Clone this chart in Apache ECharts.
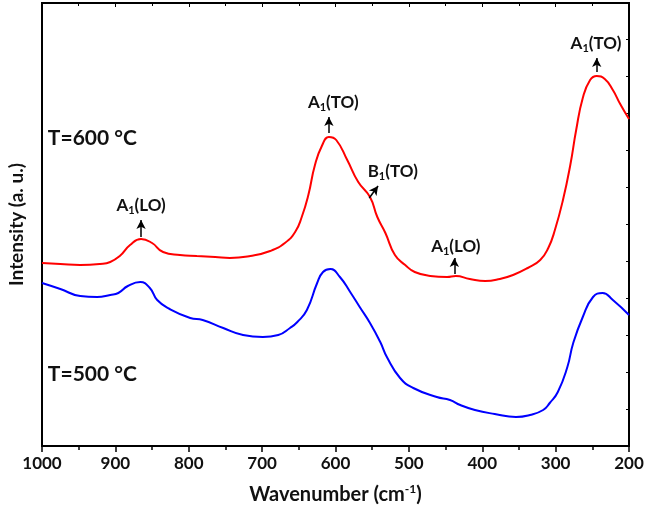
<!DOCTYPE html>
<html>
<head>
<meta charset="utf-8">
<script src="https://cdn.jsdelivr.net/npm/echarts@6/dist/echarts.min.js"></script>
<style>
  html,body{margin:0;padding:0;background:#fff;}
  #chart{width:647px;height:507px;}
</style>
</head>
<body>
<div id="chart"></div>
<script>
  // wavenumber (cm-1) and intensity (a.u.)
  var red600 = [
    [1000,183],[975,182],[948,181],[921,182],[907,184],[894,190],[880,201],[865,207],
    [850,203],[835,194],[812,191],[789,190],[764,189],[744,188],[716,190],[689,195],
    [669,203],[655,214],[646,229],[637,251],[628,281],[618,301],[609,309],[599,306],
    [584,286],[569,264],[553,249],[543,229],[532,213],[519,191],[505,181],[492,174],
    [471,170],[448,169],[436,170],[417,167],[396,165],[376,167],[358,171],[338,178],
    [321,186],[310,198],[301,216],[290,246],[280,281],[272,316],[263,348],[253,366],
    [244,370],[233,367],[222,356],[212,342],[200,327]
  ];
  var blue500 = [
    [1000,163],[975,157],[948,150],[925,149],[907,151],[896,153],[883,160],[866,164],
    [853,158],[843,146],[826,137],[798,128],[781,126],[753,118],[726,111],[699,109],
    [678,111],[662,118],[652,124],[639,136],[625,163],[617,174],[607,177],[594,169],
    [580,154],[567,139],[553,123],[539,104],[530,89],[512,68],[494,58],[462,49],
    [444,46],[430,41],[410,36],[383,32],[354,29],[335,31],[317,36],[308,43],
    [297,54],[284,79],[276,103],[263,129],[249,149],[236,153],[222,146],[200,131]
  ];
  // peak labels: [wavenumber, intensity] of the text centre
  var peakNames = ['A1(LO)','A1(TO)','B1(TO)','A1(LO)','A1(TO)'];
  var peakText = [[865,240],[603,343],[522,274],[436,199],[245,402]];
  // arrows: [from, to]
  var peakArrows = [
    [[865,209],[865,226]],
    [[609,313],[609,329]],
    [[554,248],[542,260]],
    [[438,172],[438,188]],
    [[244,374],[244,388]]
  ];
  var tempNames = ['T=600 °C','T=500 °C'];
  var tempPos = [[992,308],[992,72]];

  var fontF = 'Lato, "Open Sans", sans-serif';

  function richName(s){
    // A1(TO) -> A + subscript 1 + (TO)
    return '{a|' + s.charAt(0) + '}{s|' + s.charAt(1) + '}{a|' + s.slice(2) + '}';
  }

  var labelPoints = peakNames.map(function(n,i){
    return {
      coord: peakText[i],
      symbol: 'circle', symbolSize: 1,
      itemStyle: {color: 'rgba(0,0,0,0)'},
      label: {
        show: true, position: 'inside',
        formatter: richName(n),
        rich: {
          a: {fontFamily: fontF, fontWeight: 'bold', fontSize: 17, color: '#111'},
          s: {fontFamily: fontF, fontWeight: 'bold', fontSize: 11, color: '#111', padding: [9,0,0,0]}
        }
      }
    };
  });
  tempNames.forEach(function(n,i){
    labelPoints.push({
      coord: tempPos[i],
      symbol: 'circle', symbolSize: 1,
      itemStyle: {color: 'rgba(0,0,0,0)'},
      label: {show: true, position: 'inside', align: 'left', formatter: n,
        fontFamily: fontF, fontWeight: 'bold', fontSize: 21, color: '#111'}
    });
  });

  var arrowLines = peakArrows.map(function(a){
    return [{coord: a[0]}, {coord: a[1]}];
  });

  var chart = echarts.init(document.getElementById('chart'));
  var axisLine = {show: true, onZero: false, lineStyle: {color: '#000', width: 2}};

  var option = {
    animation: false,
    grid: {left: 42, right: 18, top: 3, bottom: 61, show: true, outerBoundsMode: 'none',
      borderColor: '#000', borderWidth: 2, backgroundColor: 'transparent'},
    xAxis: [{
      type: 'value', inverse: true, min: 200, max: 1000, interval: 100,
      position: 'bottom',
      axisLine: axisLine,
      axisTick: {show: true, length: 6, lineStyle: {color: '#000', width: 1.5}},
      minorTick: {show: true, splitNumber: 2, length: 4, lineStyle: {color: '#000', width: 1.5}},
      splitLine: {show: false},
      axisLabel: {fontFamily: fontF, fontWeight: 'bold', fontSize: 17, color: '#111', margin: 9,
        formatter: function(v){ return String(v); }},
      name: 'Wavenumber (cm{sup|-1})',
      nameLocation: 'middle', nameGap: 37,
      nameTextStyle: {fontFamily: fontF, fontWeight: 'bold', fontSize: 20, color: '#111',
        rich: {sup: {fontFamily: fontF, fontWeight: 'bold', fontSize: 12, color: '#111', padding: [0,0,11,0]}}}
    },{
      type: 'value', inverse: true, min: 200, max: 1000, interval: 100,
      position: 'top',
      axisLine: axisLine,
      axisTick: {show: true, inside: true, length: 4, lineStyle: {color: '#000'}},
      minorTick: {show: true, splitNumber: 2, length: 3, lineStyle: {color: '#000'}},
      axisLabel: {show: false}, splitLine: {show: false}
    }],
    yAxis: [{
      type: 'value', min: 0, max: 443, interval: 37,
      position: 'left',
      axisLine: axisLine,
      axisTick: {show: false},
      axisLabel: {show: false}, splitLine: {show: false},
      name: 'Intensity (a. u.)', nameLocation: 'middle', nameGap: 16,
      nameTextStyle: {fontFamily: fontF, fontWeight: 'bold', fontSize: 19, color: '#111'}
    },{
      type: 'value', min: 0, max: 443, interval: 37,
      position: 'right',
      axisLine: axisLine,
      axisTick: {show: true, inside: true, length: 3, lineStyle: {color: '#000'}},
      axisLabel: {show: false}, splitLine: {show: false}
    }],
    series: [{
      name: 'T=600', type: 'line', data: red600, smooth: 0.5, showSymbol: false,
      lineStyle: {color: '#ff0000', width: 2}, itemStyle: {color: '#ff0000'},
      markPoint: {silent: true, data: labelPoints},
      markLine: {
        silent: true, symbol: ['none','arrow'], symbolSize: [7,9],
        label: {show: false},
        lineStyle: {color: '#000', width: 1.5, type: 'solid'},
        data: arrowLines
      }
    },{
      name: 'T=500', type: 'line', data: blue500, smooth: 0.5, showSymbol: false,
      lineStyle: {color: '#0000ff', width: 2}, itemStyle: {color: '#0000ff'}
    }]
  };
  chart.setOption(option);
</script>
</body>
</html>
